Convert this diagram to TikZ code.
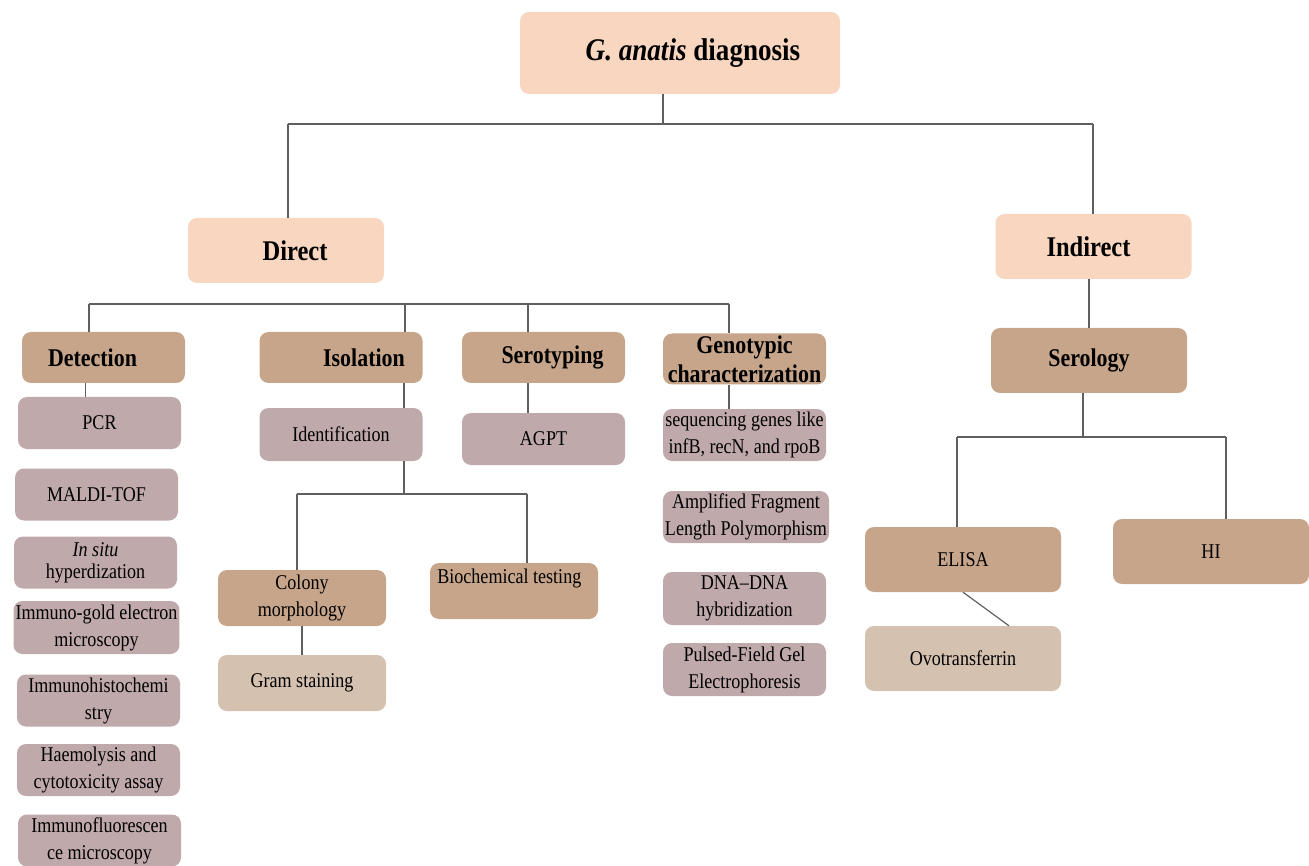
\documentclass[tikz,border=0pt]{standalone}
\usepackage{fontspec}
\setmainfont{Liberation Serif}[FakeStretch=0.86]
\usepackage{tikz}
\usetikzlibrary{positioning}
\definecolor{peach1}{RGB}{248,214,191}
\definecolor{tan1}{RGB}{199,165,138}
\definecolor{mauve1}{RGB}{192,169,171}
\definecolor{sand1}{RGB}{213,193,175}
\definecolor{line1}{RGB}{95,95,95}

\begin{document}
\begin{tikzpicture}[x=1pt, y=-1pt,
  box/.style={rounded corners=9pt, inner sep=2pt, align=center, font=\fontsize{21}{27}\selectfont},
  rootbox/.style={box, fill=peach1, font=\fontsize{31.5}{36}\selectfont\bfseries},
  headbox/.style={box, fill=peach1, minimum width=196pt, minimum height=65pt, font=\fontsize{28.5}{32}\selectfont\bfseries},
  catbox/.style={box, fill=tan1, minimum width=163pt, minimum height=51pt, font=\fontsize{25.5}{29}\selectfont\bfseries},
  itembox/.style={box, fill=mauve1, minimum width=163pt, minimum height=52pt},
  tanbox/.style={box, fill=tan1, minimum width=168pt, minimum height=56pt},
  sandbox/.style={box, fill=sand1, minimum width=168pt, minimum height=56pt},
  serobox/.style={box, fill=tan1, minimum width=196pt, minimum height=65pt},
  link/.style={draw=line1, line width=1.2pt}]
  \useasboundingbox (0,0) rectangle (1309,866);

  \node[rootbox, minimum width=320pt, minimum height=82pt] (diag) at (680,53) {\hspace*{26pt}\textit{G. anatis} diagnosis};
  \node[headbox] (direct) at (286,250.5) {\hspace*{18pt}Direct};
  \node[headbox] (indirect) at (1093.5,246.5) {Indirect\hspace*{10pt}};

  % direct branch
  \node[catbox] (detection) at (103.5,357.5) {Detection\hspace*{22pt}};
  \node[catbox] (isolation) at (341,357.5) {\hspace*{46pt}Isolation};
  \node[catbox] (serotyping) at (543.5,357.5) {\hspace*{18pt}Serotyping};
  \node[catbox] (genotypic) at (744.5,359) {Genotypic\\characterization};

  \node[itembox] (pcr) at (99.5,423) {PCR};
  \node[itembox] (maldi) at (96.5,494.5) {MALDI-TOF};
  \node[itembox, font=\fontsize{21}{22}\selectfont] (insitu) at (95.5,562.5) {\textit{In situ}\\hyperdization};
  \node[itembox, minimum height=53pt] (immgold) at (96.5,627.5) {Immuno-gold electron\\microscopy};
  \node[itembox] (immhisto) at (98.5,700.5) {Immunohistochemi\\stry};
  \node[itembox] (haemo) at (98.5,770) {Haemolysis and\\cytotoxicity assay};
  \node[itembox] (immfluo) at (99.5,840.5) {Immunofluorescen\\ce microscopy};

  \node[itembox, minimum height=53pt] (ident) at (341,434.5) {Identification};
  \node[tanbox] (colony) at (302,598) {Colony\\morphology};
  \node[sandbox] (gram) at (302,683) {Gram staining};
  \node[tanbox, label={[anchor=north west, xshift=4pt, yshift=-3pt, font=\fontsize{21}{27}\selectfont]north west:Biochemical testing}] (biochem) at (514,591) {};

  \node[itembox] (agpt) at (543.5,439) {AGPT};

  \node[itembox] (seqgenes) at (744.5,435) {sequencing genes like\\infB, recN, and rpoB};
  \node[itembox, minimum width=164pt] (aflp) at (746,517) {Amplified Fragment\\Length Polymorphism};
  \node[itembox, minimum height=53pt] (dnadna) at (744.5,598.5) {DNA--DNA\\hybridization};
  \node[itembox, minimum height=53pt] (pfge) at (744.5,669.5) {Pulsed-Field Gel\\Electrophoresis};

  % indirect branch
  \node[serobox, font=\fontsize{25.5}{29}\selectfont\bfseries] (serology) at (1089,360.5) {Serology};
  \node[serobox] (elisa) at (963,559.5) {ELISA};
  \node[serobox] (hi) at (1211,551.5) {HI};
  \node[serobox, fill=sand1] (ovo) at (963,658.5) {Ovotransferrin};

  % connectors
  \coordinate (rootjoin) at (663,124);
  \coordinate (rootleft) at (288,124);
  \coordinate (rootright) at (1093,124);
  \draw[link] (diag.south -| rootjoin) -- (rootjoin);
  \draw[link] (rootleft) -- (rootright);
  \draw[link] (rootleft) -- (rootleft |- direct.north);
  \draw[link] (rootright) -- (rootright |- indirect.north);

  \coordinate (dirleft) at (89,304);
  \coordinate (isojoin) at (405,304);
  \coordinate (serojoin) at (528,304);
  \coordinate (dirright) at (729,304);
  \draw[link] (dirleft) -- (dirright);
  \draw[link] (dirleft) -- (dirleft |- detection.north);
  \draw[link] (isojoin) -- (isojoin |- isolation.north);
  \draw[link] (serojoin) -- (serojoin |- serotyping.north);
  \draw[link] (dirright) -- (dirright |- genotypic.north);

  \draw[link] ([xshift=-18pt]detection.south) -- ([xshift=-18pt]detection.south |- pcr.north);
  \draw[link] (serotyping.south -| serojoin) -- (agpt.north -| serojoin);
  \draw[link] (genotypic.south -| dirright) -- (seqgenes.north -| dirright);

  \coordinate (idjoin) at (404,494);
  \coordinate (idleft) at (297,494);
  \coordinate (idright) at (527,494);
  \draw[link] (isolation.south -| idjoin) -- (ident.north -| idjoin);
  \draw[link] (ident.south -| idjoin) -- (idjoin);
  \draw[link] (idleft) -- (idright);
  \draw[link] (idleft) -- (idleft |- colony.north);
  \draw[link] (idright) -- (idright |- biochem.north);
  \draw[link] (colony.south) -- (gram.north);

  \coordinate (serjoin) at (1083,437);
  \coordinate (serleft) at (957,437);
  \coordinate (serright) at (1226,437);
  \draw[link] (indirect.south -| serology.north) -- (serology.north);
  \draw[link] (serology.south -| serjoin) -- (serjoin);
  \draw[link] (serleft) -- (serright);
  \draw[link] (serleft) -- (serleft |- elisa.north);
  \draw[link] (serright) -- (serright |- hi.north);
  \draw[link] (elisa.south) -- ([xshift=46pt]ovo.north);
\end{tikzpicture}
\end{document}
